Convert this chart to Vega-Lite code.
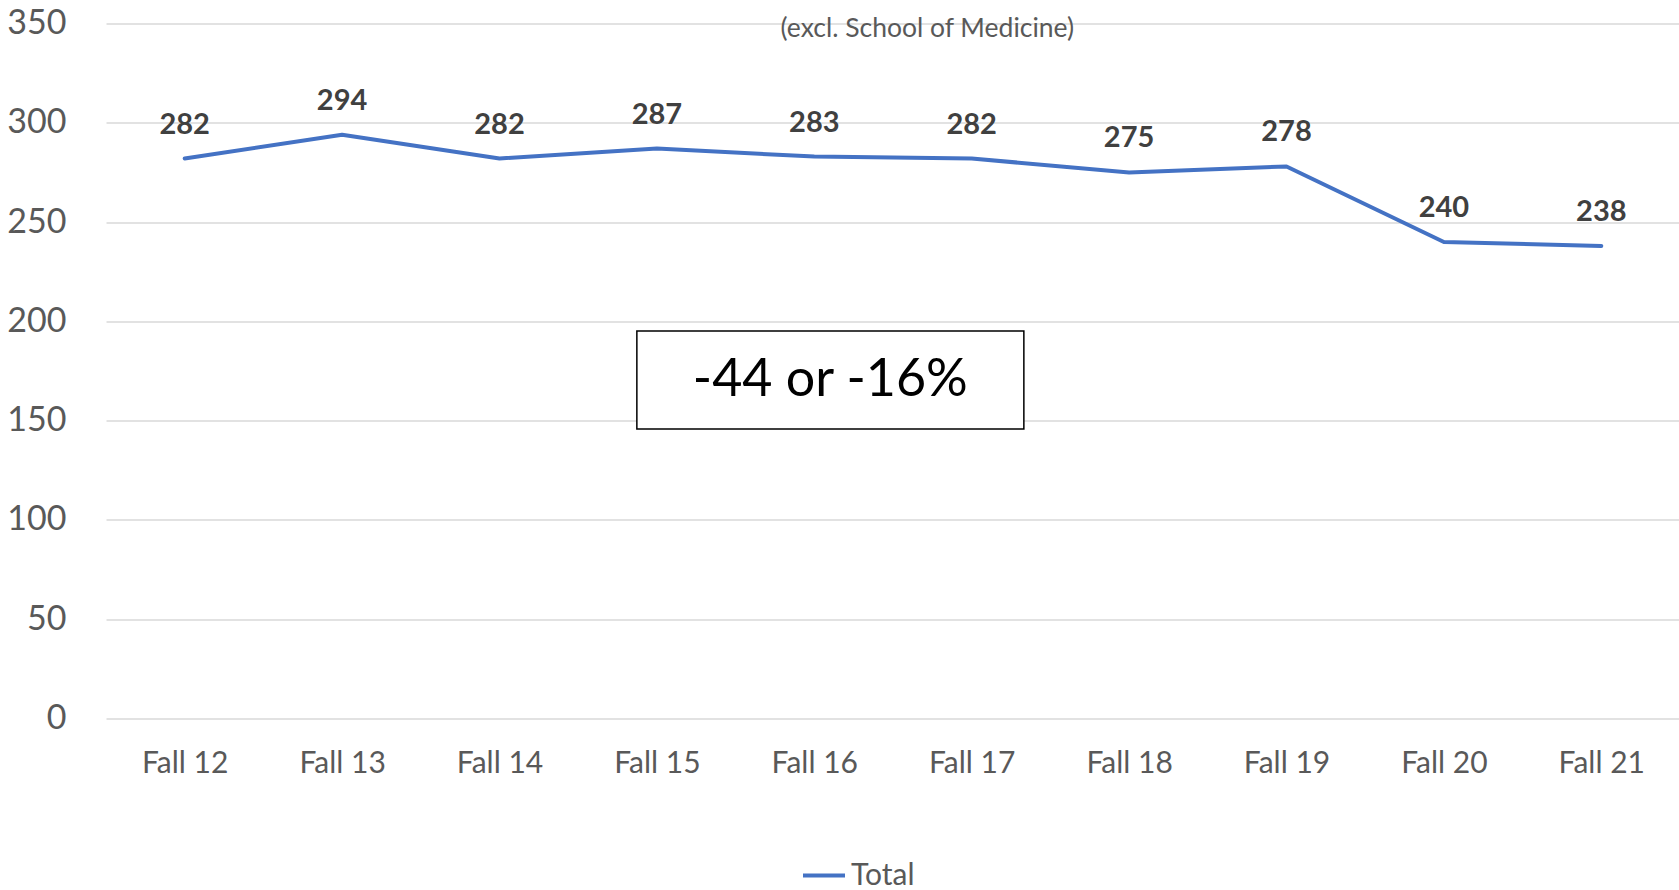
{
  "$schema": "https://vega.github.io/schema/vega-lite/v6.json",
  "width": 1574,
  "height": 695,
  "autosize": {"type": "none"},
  "padding": {"left": 106, "top": 23.5, "right": 0, "bottom": 171.5},
  "background": "white",
  "config": {
    "view": {"stroke": null},
    "font": "Lato",
    "text": {"font": "Lato"}
  },
  "data": {
    "values": [
      {"term": "Fall 12", "value": 282, "series": "Total"},
      {"term": "Fall 13", "value": 294, "series": "Total"},
      {"term": "Fall 14", "value": 282, "series": "Total"},
      {"term": "Fall 15", "value": 287, "series": "Total"},
      {"term": "Fall 16", "value": 283, "series": "Total"},
      {"term": "Fall 17", "value": 282, "series": "Total"},
      {"term": "Fall 18", "value": 275, "series": "Total"},
      {"term": "Fall 19", "value": 278, "series": "Total"},
      {"term": "Fall 20", "value": 240, "series": "Total"},
      {"term": "Fall 21", "value": 238, "series": "Total"}
    ]
  },
  "encoding": {
    "x": {
      "field": "term",
      "type": "nominal",
      "sort": null,
      "scale": {"paddingInner": 0, "paddingOuter": 0},
      "axis": {
        "title": null,
        "labelAngle": 0,
        "ticks": false,
        "domain": false,
        "labelFontSize": 30,
        "labelColor": "#595959",
        "labelPadding": 30,
        "labelFont": "Lato"
      }
    },
    "y": {
      "field": "value",
      "type": "quantitative",
      "scale": {"domain": [0, 350], "nice": false},
      "axis": {
        "title": null,
        "values": [0, 50, 100, 150, 200, 250, 300, 350],
        "ticks": false,
        "domain": false,
        "grid": true,
        "gridColor": "#d9d9d9",
        "gridWidth": 1.5,
        "labelFontSize": 34,
        "labelColor": "#595959",
        "labelPadding": 40,
        "labelFont": "Lato"
      }
    }
  },
  "layer": [
    {
      "mark": {"type": "line", "strokeWidth": 4, "strokeCap": "round", "strokeJoin": "round"},
      "encoding": {
        "color": {
          "field": "series",
          "type": "nominal",
          "scale": {"range": ["#4472C4"]},
          "legend": {
            "title": null,
            "orient": "none",
            "legendX": 695,
            "legendY": 829,
            "padding": 0,
            "symbolType": "stroke",
            "symbolSize": 1764,
            "symbolStrokeWidth": 4,
            "labelFontSize": 30,
            "labelColor": "#595959",
            "labelOffset": 4,
            "labelFont": "Lato"
          }
        }
      }
    },
    {
      "mark": {"type": "text", "dy": -34, "baseline": "middle", "fontSize": 29, "fontWeight": "bold", "color": "#404040", "font": "Lato"},
      "encoding": {"text": {"field": "value", "type": "quantitative"}}
    },
    {
      "data": {"values": [{"term": "Fall 16", "value": 170.5, "label": "-44 or -16%"}]},
      "layer": [
        {
          "mark": {
            "type": "point",
            "shape": "M-0.917,-0.2532H1.083V0.2532H-0.917Z",
            "size": 149769,
            "filled": true,
            "fill": "white",
            "stroke": "black",
            "strokeWidth": 1.5,
            "opacity": 1
          },
          "encoding": {}
        },
        {
          "mark": {"type": "text", "dx": 16, "baseline": "middle", "align": "center", "fontSize": 52, "color": "#000000", "font": "Lato"},
          "encoding": {"text": {"field": "label"}}
        }
      ]
    },
    {
      "data": {"values": [{"term": "Fall 16", "value": 347.2, "label": "(excl. School of Medicine)"}]},
      "mark": {"type": "text", "dx": 113, "baseline": "middle", "align": "center", "fontSize": 26.5, "color": "#595959", "font": "Lato"},
      "encoding": {"text": {"field": "label"}}
    }
  ]
}
